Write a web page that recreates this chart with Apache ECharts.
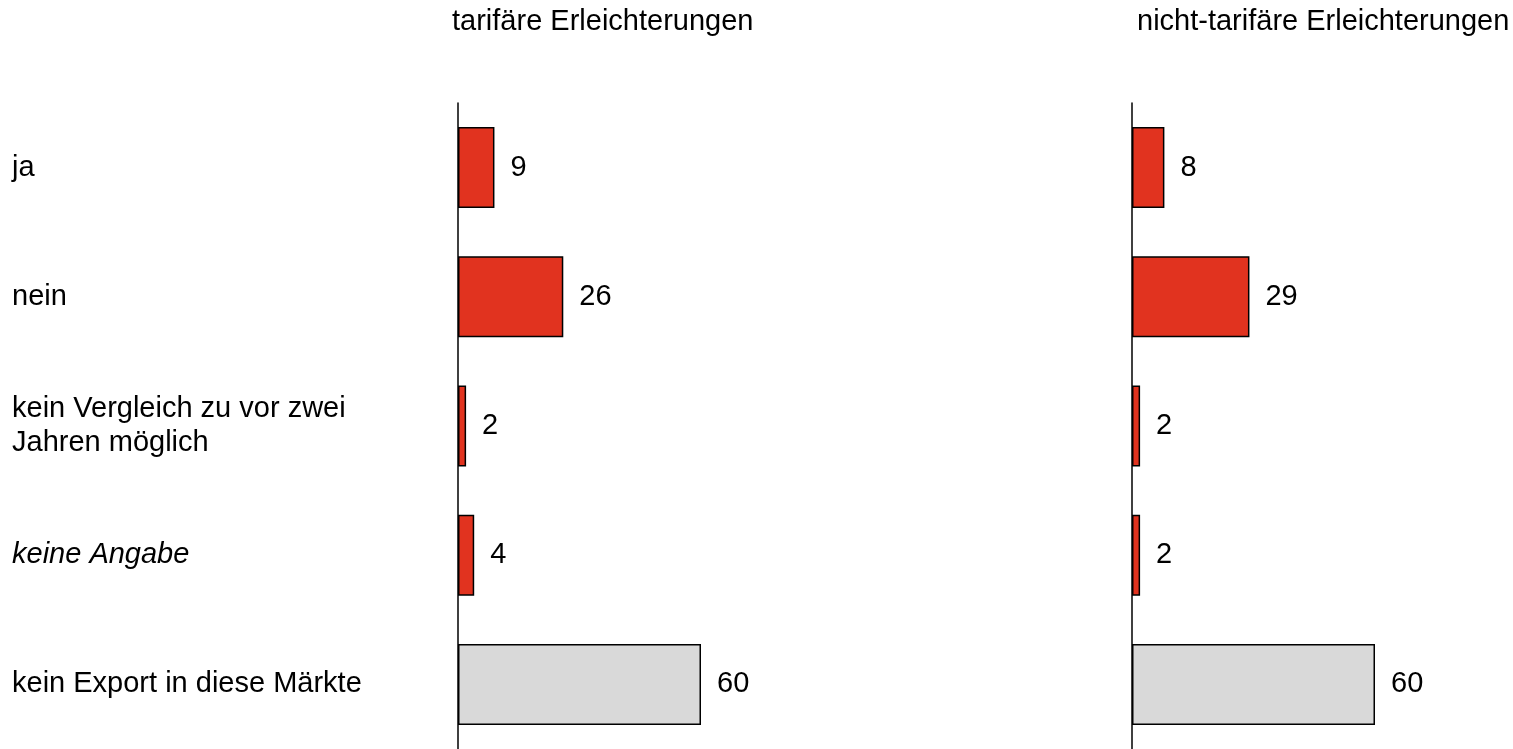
<!DOCTYPE html>
<html>
<head>
<meta charset="utf-8">
<script src="https://cdn.jsdelivr.net/npm/echarts@6/dist/echarts.min.js"></script>
<style>
html,body{margin:0;padding:0;background:#fff;}
#chart{width:1513px;height:749px;}
</style>
</head>
<body>
<div id="chart"></div>
<script>
const categories = ['ja', 'nein', 'kein Vergleich zu vor zwei\nJahren möglich', 'keine Angabe', 'kein Export in diese Märkte'];
const tarifValues = [9, 26, 2, 4, 60];
const nichtTarifValues = [8, 29, 2, 2, 60];
const panelTitles = ['tarifäre Erleichterungen', 'nicht-tarifäre Erleichterungen'];
const italicCategories = ['keine Angabe'];

const RED = '#E1331F';
const GRAY = '#D9D9D9';
const FONT = 'Liberation Sans, Arial, sans-serif';

function barData(values) {
  return values.map((v, i) => ({
    value: v,
    itemStyle: { color: i === values.length - 1 ? GRAY : RED }
  }));
}

const chart = echarts.init(document.getElementById('chart'), null, { renderer: 'canvas' });

const option = {
  backgroundColor: '#fff',
  animation: false,
  textStyle: { fontFamily: FONT },
  title: [
    { text: panelTitles[0], left: 447, top: 2, textStyle: { fontSize: 29, fontWeight: 'normal', color: '#000', fontFamily: FONT } },
    { text: panelTitles[1], left: 1132, top: 2, textStyle: { fontSize: 29, fontWeight: 'normal', color: '#000', fontFamily: FONT } }
  ],
  grid: [
    { left: 458, top: 103, width: 324, height: 649, containLabel: false },
    { left: 1132, top: 103, width: 324, height: 649, containLabel: false }
  ],
  xAxis: [
    { gridIndex: 0, type: 'value', min: 0, max: 80, show: false },
    { gridIndex: 1, type: 'value', min: 0, max: 80, show: false }
  ],
  yAxis: [
    {
      gridIndex: 0, type: 'category', data: categories, inverse: true,
      axisLine: { show: true, lineStyle: { color: '#000', width: 1.5 } },
      axisTick: { show: false },
      splitLine: { show: false },
      axisLabel: {
        show: true, align: 'left', margin: 446,
        color: '#000', fontSize: 29, lineHeight: 34, fontFamily: FONT,
        formatter: function (v) { return italicCategories.indexOf(v) >= 0 ? '{i|' + v + '}' : v; },
        rich: { i: { fontStyle: 'italic', fontSize: 29, color: '#000', fontFamily: FONT } }
      }
    },
    {
      gridIndex: 1, type: 'category', data: categories, inverse: true,
      axisLine: { show: true, lineStyle: { color: '#000', width: 1.5 } },
      axisTick: { show: false },
      splitLine: { show: false },
      axisLabel: { show: false }
    }
  ],
  series: [
    {
      type: 'bar', xAxisIndex: 0, yAxisIndex: 0, data: barData(tarifValues),
      barWidth: 81,
      itemStyle: { borderColor: '#000', borderWidth: 1.5 },
      label: { show: true, position: 'right', distance: 16, color: '#000', fontSize: 29, fontFamily: FONT }
    },
    {
      type: 'bar', xAxisIndex: 1, yAxisIndex: 1, data: barData(nichtTarifValues),
      barWidth: 81,
      itemStyle: { borderColor: '#000', borderWidth: 1.5 },
      label: { show: true, position: 'right', distance: 16, color: '#000', fontSize: 29, fontFamily: FONT }
    }
  ]
};
chart.setOption(option);
</script>
</body>
</html>
